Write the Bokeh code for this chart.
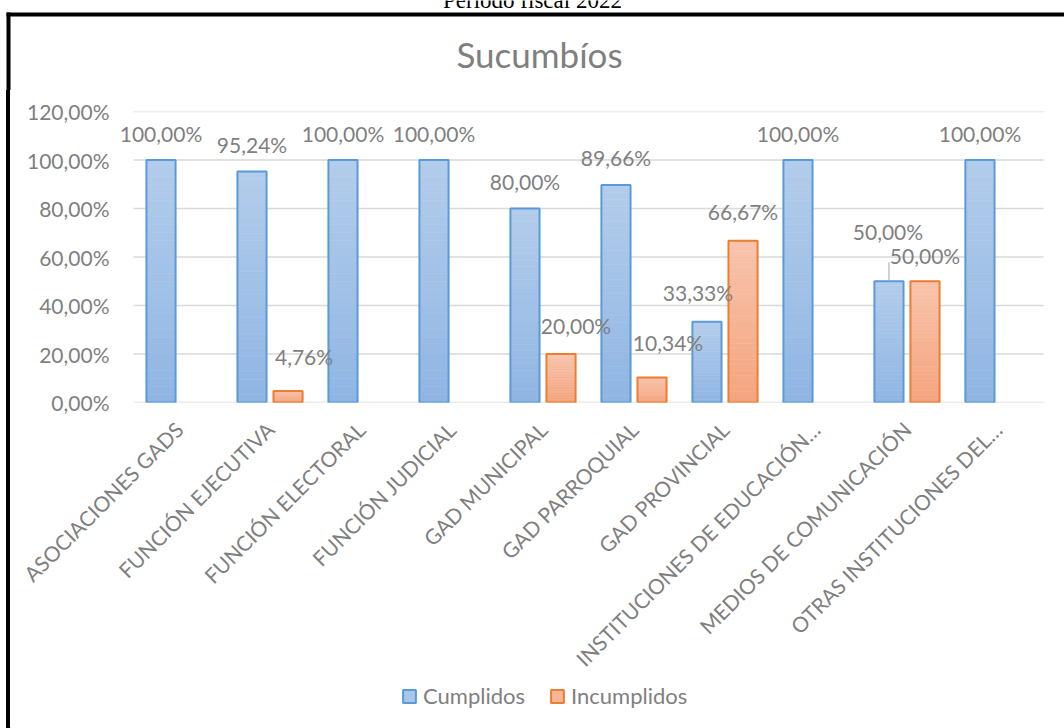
import math
from bokeh.plotting import figure
from bokeh.layouts import column, row
from bokeh.models import (ColumnDataSource, FactorRange, Range1d, FixedTicker,
                          Legend, LegendItem, Spacer)
from bokeh.transform import dodge
from bokeh.core.properties import value
from bokeh.embed import file_html
from bokeh.resources import INLINE

# ---------------- data ----------------
caption = "Periodo fiscal 2022"
chart_title = "Sucumbíos"
categories = ["ASOCIACIONES GADS", "FUNCIÓN EJECUTIVA", "FUNCIÓN ELECTORAL",
              "FUNCIÓN JUDICIAL", "GAD MUNICIPAL", "GAD PARROQUIAL",
              "GAD PROVINCIAL", "INSTITUCIONES DE EDUCACIÓN…",
              "MEDIOS DE COMUNICACIÓN", "OTRAS INSTITUCIONES DEL…"]
series_names = ["Cumplidos", "Incumplidos"]
cumplidos = [100.00, 95.24, 100.00, 100.00, 80.00, 89.66, 33.33, 100.00, 50.00, 100.00]
incumplidos = [0.00, 4.76, 0.00, 0.00, 20.00, 10.34, 66.67, 0.00, 50.00, 0.00]
y_ticks = [0, 20, 40, 60, 80, 100, 120]
y_tick_labels = ["0,00%", "20,00%", "40,00%", "60,00%", "80,00%", "100,00%", "120,00%"]

# ---------------- styles (label placement in pixels) ----------------
lab_dx_c = [0, 0, 0, 0, 0, 0, -9, 0, -1, 0]
lab_up_c = [25, 25, 25, 25, 25, 26, 27, 25, 48, 25]
leader_px_c = [0, 0, 0, 0, 0, 0, 0, 0, 19, 0]
lab_dx_i = [0, 16, 0, 0, 15, 16, 0, 0, 0, 0]
lab_up_i = [0, 32, 0, 0, 27, 33, 27, 0, 24, 0]
LABEL_CORR = 2

FONT = "Lato"
GRAY = "#7f7f7f"
BLUE_LINE, BLUE_TOP, BLUE_BOT = "#5b9bd5", "#b3cdeb", "#90b5e3"
ORG_LINE, ORG_TOP, ORG_BOT = "#ed7d31", "#f8c4ac", "#f4a47e"
OFF, BW = 0.198, 0.32

PAGE_W, PAGE_H = 1064, 728
TOP_H = 90          # strip holding caption, frame border and title
STRIP_W = 10        # strip where the left frame border shows
MAIN_W, MAIN_H = PAGE_W - STRIP_W, 592
LEG_H = PAGE_H - TOP_H - MAIN_H
BL, BR, BT, BB = 103, 1, 21, 280
frame_h = MAIN_H - BT - BB


def hex2rgb(h):
    h = h.lstrip("#")
    return tuple(int(h[i:i + 2], 16) for i in (0, 2, 4))


def mix(c0, c1, t):
    a, b = hex2rgb(c0), hex2rgb(c1)
    return "#%02x%02x%02x" % tuple(round(a[k] + (b[k] - a[k]) * t) for k in range(3))


def gradient_source(vals, top_col, bot_col, n=30):
    xs, b, t, col = [], [], [], []
    for c, v in zip(categories, vals):
        if v <= 0:
            continue
        for i in range(n):
            xs.append(c)
            b.append(v * i / n)
            t.append(v * (i + 1) / n)
            col.append(mix(bot_col, top_col, (i + 0.5) / n))
    return ColumnDataSource(dict(x=xs, bottom=b, top=t, color=col))


def fmt(v):
    return ("%.2f" % v).replace(".", ",") + "%"


def bare(fig):
    fig.axis.visible = False
    fig.grid.visible = False
    fig.outline_line_color = None
    fig.background_fill_color = "white"
    fig.border_fill_color = "white"
    return fig


# ---------------- top strip: caption, border, title ----------------
top = bare(figure(width=PAGE_W, height=TOP_H, x_range=Range1d(0, PAGE_W),
                  y_range=Range1d(TOP_H, 0), output_backend="svg",
                  toolbar_location=None, min_border=0, title=None))
top.text(x=[532], y=[-0.5], text=[caption], text_align="center",
         text_baseline="middle", text_font=value("Liberation Serif"),
         text_font_size="23px", text_color="black")
top.quad(left=[6, 6], right=[PAGE_W + 10, 10], top=[12, 12], bottom=[16, TOP_H],
         fill_color="black", line_color=None)
top.text(x=[539], y=[53.5], text=[chart_title], text_align="center",
         text_baseline="middle", text_font=value(FONT),
         text_font_size="35px", text_color=GRAY)

# ---------------- main chart ----------------
p = figure(x_range=FactorRange(*categories, range_padding=0.22,
                               range_padding_units="absolute"),
           y_range=Range1d(0, 120),
           width=MAIN_W, height=MAIN_H, output_backend="svg", toolbar_location=None,
           title=None, min_border_left=BL, min_border_right=BR,
           min_border_top=BT, min_border_bottom=BB)
p.outline_line_color = None
p.background_fill_color = "white"
p.border_fill_color = "white"
p.grid.visible = False

p.yaxis.ticker = FixedTicker(ticks=y_ticks)
p.yaxis.major_label_overrides = {t: l for t, l in zip(y_ticks, y_tick_labels)}
p.yaxis.axis_line_color = None
p.yaxis.major_tick_line_color = None
p.yaxis.minor_tick_line_color = None
p.yaxis.major_tick_out = 0
p.yaxis.major_tick_in = 0
p.yaxis.major_label_standoff = 4
p.yaxis.major_label_text_font = FONT
p.yaxis.major_label_text_font_size = "21px"
p.yaxis.major_label_text_color = GRAY

p.xaxis.axis_line_color = None
p.xaxis.major_tick_line_color = None
p.xaxis.minor_tick_line_color = None
p.xaxis.major_tick_out = 0
p.xaxis.major_tick_in = 0
p.xaxis.major_label_orientation = math.pi / 4
p.xaxis.major_label_standoff = 23
p.xaxis.major_label_text_font = FONT
p.xaxis.major_label_text_font_size = "21px"
p.xaxis.major_label_text_color = GRAY

# horizontal gridlines spanning exactly the category band
gsrc = ColumnDataSource(dict(first=[categories[0]] * len(y_ticks),
                             last=[categories[-1]] * len(y_ticks), y=y_ticks))
p.segment(x0=dodge("first", -0.5, range=p.x_range), y0="y",
          x1=dodge("last", 0.5, range=p.x_range), y1="y", source=gsrc,
          line_color="#d9d9d9", line_width=1.5)

# bars with vertical gradient
for vals, off, top_c, bot_c, line_c in [
        (cumplidos, -OFF, BLUE_TOP, BLUE_BOT, BLUE_LINE),
        (incumplidos, OFF, ORG_TOP, ORG_BOT, ORG_LINE)]:
    gs = gradient_source(vals, top_c, bot_c)
    p.vbar(x=dodge("x", off, range=p.x_range), bottom="bottom", top="top",
           width=BW, source=gs, fill_color="color", line_color="color",
           line_width=0.6)
    nz = [(c, v) for c, v in zip(categories, vals) if v > 0]
    osrc = ColumnDataSource(dict(x=[c for c, _ in nz], top=[v for _, v in nz]))
    p.vbar(x=dodge("x", off, range=p.x_range), top="top", bottom=0, width=BW,
           source=osrc, fill_color=None, line_color=line_c, line_width=2)

# leader line
px_per_unit = frame_h / 120.0
ld = [(c, v, px) for c, v, px in zip(categories, cumplidos, leader_px_c) if px > 0]
lsrc = ColumnDataSource(dict(x=[d[0] for d in ld], y0=[d[1] for d in ld],
                             y1=[d[1] + d[2] / px_per_unit for d in ld]))
p.segment(x0=dodge("x", -OFF, range=p.x_range), y0="y0",
          x1=dodge("x", -OFF, range=p.x_range), y1="y1", source=lsrc,
          line_color="#a6a6a6", line_width=1)

# data labels
for vals, off, dxs, ups in [(cumplidos, -OFF, lab_dx_c, lab_up_c),
                            (incumplidos, OFF, lab_dx_i, lab_up_i)]:
    rows_ = [(c, v, dx, up) for c, v, dx, up in zip(categories, vals, dxs, ups) if v > 0]
    tsrc = ColumnDataSource(dict(x=[r[0] for r in rows_], y=[r[1] for r in rows_],
                                 text=[fmt(r[1]) for r in rows_],
                                 dx=[r[2] for r in rows_],
                                 dy=[-(r[3] + LABEL_CORR) for r in rows_]))
    p.text(x=dodge("x", off, range=p.x_range), y="y", text="text", source=tsrc,
           x_offset="dx", y_offset="dy", text_align="center",
           text_baseline="middle", text_font=value(FONT),
           text_font_size="21px", text_color=GRAY)

# ---------------- legend strip ----------------
leg = bare(figure(width=MAIN_W, height=LEG_H, x_range=Range1d(0, 1),
                  y_range=Range1d(0, 1), output_backend="svg",
                  toolbar_location=None, min_border=0, title=None))
dummy_c = leg.vbar(x=[-10], top=[-10], width=0.1, fill_color="#a9c5e8",
                   line_color=BLUE_LINE, line_width=2)
dummy_i = leg.vbar(x=[-10], top=[-10], width=0.1, fill_color="#f6b596",
                   line_color=ORG_LINE, line_width=2)
legend = Legend(items=[LegendItem(label=series_names[0], renderers=[dummy_c]),
                       LegendItem(label=series_names[1], renderers=[dummy_i])],
                orientation="horizontal", location=(391, 19),
                glyph_width=16, glyph_height=16, label_height=16,
                label_standoff=6, spacing=24,
                padding=0, margin=0, border_line_color=None,
                background_fill_alpha=0, label_text_font=FONT,
                label_text_font_size="22px", label_text_color=GRAY)
leg.add_layout(legend)

strip = Spacer(width=STRIP_W, height=PAGE_H - TOP_H)
strip.styles = {"background": "linear-gradient(to right, #ffffff 0px, #ffffff 6px, "
                              "#000000 6px, #000000 10px)"}
layout = column(top,
                row(strip, column(row(p), row(leg), spacing=0), spacing=0),
                spacing=0)

open("out.html", "w").write(file_html(layout, INLINE))
